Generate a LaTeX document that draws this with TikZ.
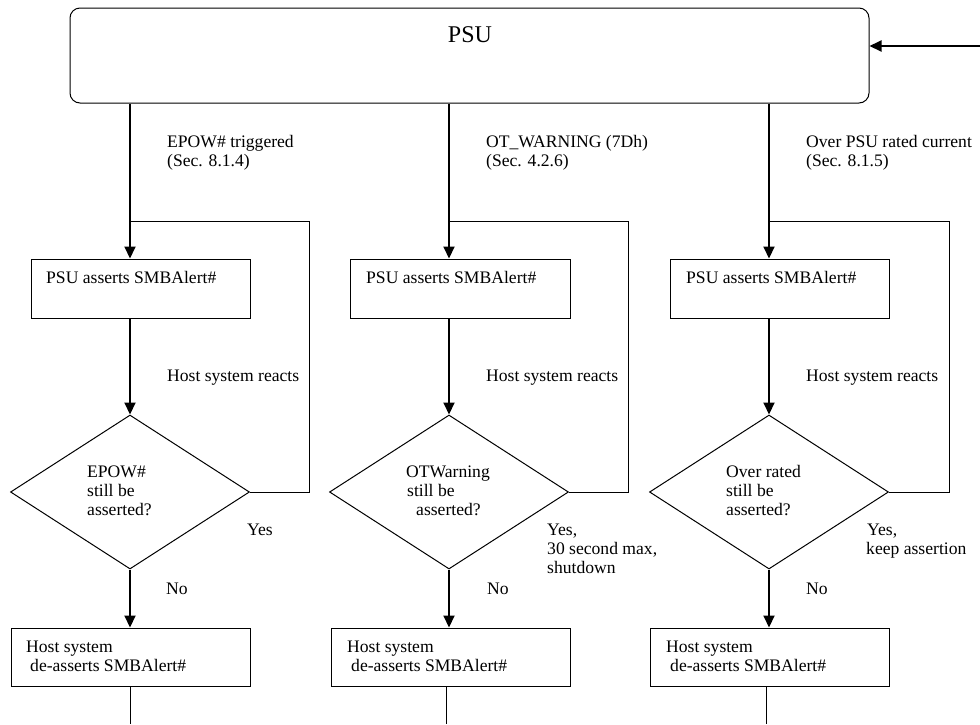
\documentclass[tikz,border=0pt]{standalone}
\usepackage{fontspec}
\setmainfont{Liberation Serif}
\usetikzlibrary{shapes.geometric,arrows.meta}
\begin{document}
\begin{tikzpicture}[x=1pt,y=-1pt,
  box/.style={draw, line width=1pt, rectangle, inner sep=0pt},
  dia/.style={draw, line width=1pt, diamond, inner sep=0pt, minimum width=239pt, minimum height=154pt},
  txt/.style={anchor=base west, inner sep=0pt, font=\fontsize{17.6}{19}\selectfont},
  mainarrow/.style={line width=2pt, -{Triangle[length=12pt,width=11pt]}},
  thinline/.style={line width=1pt}]
\useasboundingbox (0,0) rectangle (980,724);
% PSU
\node[box, rounded corners=10pt, minimum width=799pt, minimum height=95pt] (psu) at (469.5,55.5) {};
\node[anchor=base, inner sep=0pt, font=\fontsize{24}{28}\selectfont] (psut) at (470,42) {PSU};
\coordinate (inR) at (980,46);
\draw[mainarrow] (inR) -- (inR -| psu.east);
% boxes
\node[box, minimum width=219pt, minimum height=59pt] (b1) at (140.5,288.5) {};
\node[box, minimum width=220pt, minimum height=59pt] (b2) at (460,288.5) {};
\node[box, minimum width=219pt, minimum height=59pt] (b3) at (779.5,288.5) {};
\node[dia] (d1) at (130,492) {};
\node[dia] (d2) at (449,492) {};
\node[dia] (d3) at (769,492) {};
\node[box, minimum width=239pt, minimum height=58pt] (h1) at (130.5,657) {};
\node[box, minimum width=239pt, minimum height=58pt] (h2) at (450.5,657) {};
\node[box, minimum width=239pt, minimum height=58pt] (h3) at (769.5,657) {};
% main flow
\foreach \i in {1,2,3}{
  \draw[mainarrow] (d\i.north |- psu.south) -- (d\i.north |- b\i.north);
  \draw[mainarrow] (d\i.north |- b\i.south) -- (d\i.north);
  \draw[mainarrow] (d\i.south) -- (d\i.south |- h\i.north);
}
% loops
\coordinate (r1) at (309,221);
\coordinate (r2) at (628,221);
\coordinate (r3) at (949,221);
\foreach \i in {1,2,3}{
  \draw[thinline] (d\i.east) -- (r\i |- d\i.east) -- (r\i) -- (d\i.north |- r\i);
}
% exits
\coordinate (e1) at (130,724);
\coordinate (e2) at (446,724);
\coordinate (e3) at (766,724);
\foreach \i in {1,2,3}{
  \draw[thinline] (e\i |- h\i.south) -- (e\i);
}
% top labels
\node[txt] (t1a) at (167,147) {EPOW\# triggered};
\node[txt] (t1b) at (167,166) {(Sec. 8.1.4)};
\node[txt] (t2a) at (486,147) {OT\_WARNING (7Dh)};
\node[txt] (t2b) at (486,166) {(Sec. 4.2.6)};
\node[txt] (t3a) at (806,147) {Over PSU rated current};
\node[txt] (t3b) at (806,166) {(Sec. 8.1.5)};
% box texts
\node[txt] (bt1) at (46,283) {PSU asserts SMBAlert\#};
\node[txt] (bt2) at (366,283) {PSU asserts SMBAlert\#};
\node[txt] (bt3) at (686,283) {PSU asserts SMBAlert\#};
% reacts
\node[txt] (r1t) at (167,381) {Host system reacts};
\node[txt] (r2t) at (486,381) {Host system reacts};
\node[txt] (r3t) at (806,381) {Host system reacts};
% diamond texts
\node[txt] (d1a) at (87,477) {EPOW\#};
\node[txt] (d1b) at (87,496) {still be};
\node[txt] (d1c) at (87,515) {asserted?};
\node[txt] (d2a) at (406,477) {OTWarning};
\node[txt] (d2b) at (407,496) {still be};
\node[txt] (d2c) at (416,515) {asserted?};
\node[txt] (d3a) at (726,477) {Over rated};
\node[txt] (d3b) at (726,496) {still be};
\node[txt] (d3c) at (726,515) {asserted?};
% yes labels
\node[txt] (y1) at (247,535) {Yes};
\node[txt] (y2a) at (547,535) {Yes,};
\node[txt] (y2b) at (547,554) {30 second max,};
\node[txt] (y2c) at (547,573) {shutdown};
\node[txt] (y3a) at (867,535) {Yes,};
\node[txt] (y3b) at (866,554) {keep assertion};
% no labels
\node[txt] (n1) at (166,594) {No};
\node[txt] (n2) at (487,594) {No};
\node[txt] (n3) at (806,594) {No};
% host texts
\node[txt] (h1a) at (26,652) {Host system};
\node[txt] (h1b) at (30,671) {de-asserts SMBAlert\#};
\node[txt] (h2a) at (347,652) {Host system};
\node[txt] (h2b) at (351,671) {de-asserts SMBAlert\#};
\node[txt] (h3a) at (666,652) {Host system};
\node[txt] (h3b) at (670,671) {de-asserts SMBAlert\#};
\end{tikzpicture}
\end{document}
